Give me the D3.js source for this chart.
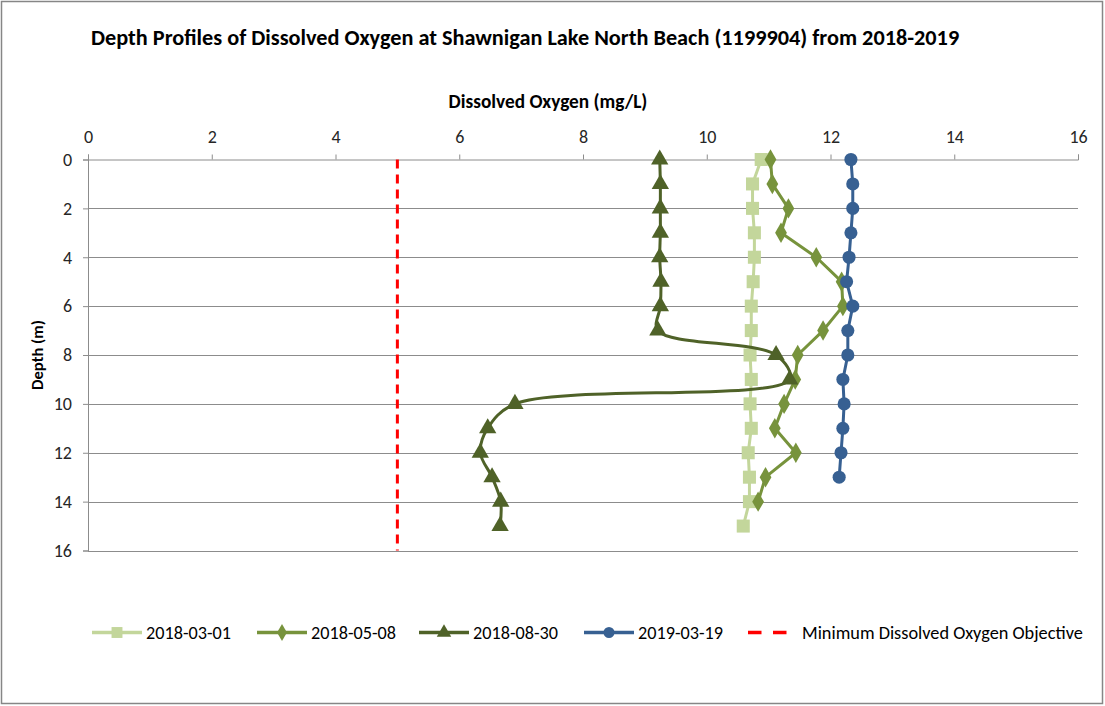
<!DOCTYPE html>
<html><head><meta charset="utf-8">
<script src="https://cdn.jsdelivr.net/npm/d3@7"></script>
<style>body{margin:0;background:#fff}svg{display:block}</style>
</head><body>
<svg id="c" width="1105" height="706"></svg>
<script>
const depths = [0,1,2,3,4,5,6,7,8,9,10,11,12,13,14,15];
const do20180301 = [10.88,10.74,10.74,10.77,10.77,10.75,10.72,10.72,10.70,10.72,10.70,10.72,10.67,10.69,10.69,10.59];
const do20180508 = [11.03,11.06,11.32,11.20,11.77,12.18,12.20,11.88,11.47,11.43,11.25,11.10,11.44,10.95,10.83];
const do20180830 = [9.24,9.25,9.25,9.25,9.24,9.26,9.25,9.21,11.12,11.34,6.90,6.46,6.34,6.53,6.67,6.66];
const do20190319 = [12.33,12.36,12.36,12.33,12.30,12.26,12.36,12.28,12.28,12.20,12.22,12.20,12.17,12.14];
const objectiveValue = 5;
const objectiveDepths = [0,16];
const xTicks = [0,2,4,6,8,10,12,14,16];
const yTicks = [0,2,4,6,8,10,12,14,16];
const seriesNames = ["2018-03-01","2018-05-08","2018-08-30","2019-03-19"];
const objectiveName = "Minimum Dissolved Oxygen Objective";
const titleText = "Depth Profiles of Dissolved Oxygen at Shawnigan Lake North Beach (1199904) from 2018-2019";
const xTitle = "Dissolved Oxygen (mg/L)";
const yTitle = "Depth (m)";

const series = [
  {name: seriesNames[0], values: do20180301, color: "#C3D69B", marker: "square", smooth: false},
  {name: seriesNames[1], values: do20180508, color: "#77933C", marker: "diamond", smooth: false},
  {name: seriesNames[2], values: do20180830, color: "#4F6228", marker: "triangle", smooth: true},
  {name: seriesNames[3], values: do20190319, color: "#376092", marker: "circle", smooth: false}
];

const svg = d3.select("#c");
const font = "Carlito, 'Liberation Sans Narrow', 'Liberation Sans', sans-serif";
const L = 88, R = 1078, T = 159.5, B = 550.5;
const x = d3.scaleLinear().domain([0,16]).range([L,R]);
const y = d3.scaleLinear().domain([0,16]).range([T,B]);

svg.append("rect").attr("x",1.5).attr("y",1.5).attr("width",1101).attr("height",702)
  .attr("fill","#fff").attr("stroke","#868686").attr("stroke-width",1.5);

function fitText(sel, target){
  const n = sel.node(); const len = n.getComputedTextLength();
  const fs = parseFloat(sel.attr("font-size"));
  sel.attr("font-size", fs*target/len);
}

const tt = svg.append("text").attr("x",91).attr("y",45).attr("font-family",font)
  .attr("font-weight","bold").attr("font-size",18).attr("fill","#000").text(titleText);
fitText(tt, 869);

svg.append("g").selectAll("line").data(yTicks.slice(1)).join("line")
  .attr("x1",L).attr("x2",R).attr("y1",d=>Math.round(y(d))+0.5).attr("y2",d=>Math.round(y(d))+0.5)
  .attr("stroke","#8c8c8c").attr("stroke-width",1);

const xAxis = d3.axisTop(x).tickValues(xTicks).tickSize(5).tickPadding(12).tickFormat(d3.format("d"));
const gx = svg.append("g").attr("transform",`translate(0,${T})`).call(xAxis);
const yAxis = d3.axisLeft(y).tickValues(yTicks).tickSize(5).tickPadding(11).tickFormat(d3.format("d"));
const gy = svg.append("g").attr("transform",`translate(${L},0)`).call(yAxis);
[gx,gy].forEach(g=>{
  g.attr("font-size",null).attr("font-family",null);
  g.select(".domain").attr("stroke","#8c8c8c");
  g.selectAll(".tick line").attr("stroke","#8c8c8c");
  g.selectAll(".tick text").style("font-family",font).style("font-size","18px").attr("fill","#262626");
});

const xt = svg.append("text").attr("x",548).attr("y",108).attr("text-anchor","middle")
  .attr("font-family",font).attr("font-weight","bold").attr("font-size",15).text(xTitle);
fitText(xt, 199);
const yt = svg.append("text").attr("transform",`translate(43,${(T+B)/2}) rotate(-90)`).attr("text-anchor","middle")
  .attr("font-family",font).attr("font-weight","bold").attr("font-size",15).text(yTitle);
fitText(yt, 70);

svg.append("line").attr("x1",x(objectiveValue)).attr("x2",x(objectiveValue))
  .attr("y1",y(objectiveDepths[0])).attr("y2",y(objectiveDepths[1]))
  .attr("stroke","#FF0000").attr("stroke-width",3).attr("stroke-dasharray","9,6");

const symbolFor = {square:d3.symbolSquare, diamond:d3.symbolDiamond, triangle:d3.symbolTriangle, circle:d3.symbolCircle};
const sizeFor = {square:170, diamond:120, triangle:130, circle:135};

function drawMarker(g, s, cx, cy, k){
  g.append("path").attr("transform",`translate(${cx},${cy})`)
    .attr("d", d3.symbol().type(symbolFor[s.marker]).size(sizeFor[s.marker]*(k||1))())
    .attr("fill", s.color);
}

series.forEach(s=>{
  const pts = s.values.map((v,i)=>[v, depths[i]]);
  const line = d3.line().x(d=>x(d[0])).y(d=>y(d[1]))
    .curve(s.smooth ? d3.curveCatmullRom.alpha(0.5) : d3.curveLinear);
  const g = svg.append("g");
  g.append("path").attr("d", line(pts)).attr("fill","none").attr("stroke",s.color)
    .attr("stroke-width",3).attr("stroke-linejoin","round");
  pts.forEach(p=>drawMarker(g, s, x(p[0]), y(p[1])));
});

const legY = 632.5;
const legX = [92, 257, 419, 584];
series.forEach((s,i)=>{
  const g = svg.append("g");
  g.append("line").attr("x1",legX[i]).attr("x2",legX[i]+50).attr("y1",legY).attr("y2",legY)
    .attr("stroke",s.color).attr("stroke-width",3.5);
  drawMarker(g, s, legX[i]+25, legY, 0.7);
  const t = g.append("text").attr("x",legX[i]+54).attr("y",legY+6).attr("font-family",font)
    .attr("font-size",16).attr("fill","#000").text(s.name);
  fitText(t, 85);
});
svg.append("line").attr("x1",748).attr("x2",787).attr("y1",legY).attr("y2",legY)
  .attr("stroke","#FF0000").attr("stroke-width",3.5).attr("stroke-dasharray","13.5,11.5");
const ot = svg.append("text").attr("x",802).attr("y",legY+6).attr("font-family",font)
  .attr("font-size",16).attr("fill","#000").text(objectiveName);
fitText(ot, 281);
</script>
</body></html>
